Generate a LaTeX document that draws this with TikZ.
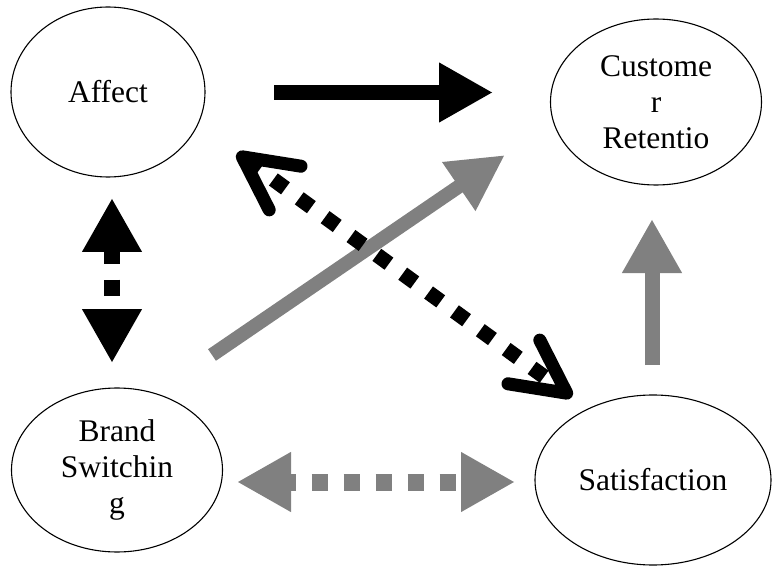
\documentclass[tikz,border=0pt]{standalone}
\usepackage{fontspec}
\setmainfont{Liberation Serif}
\usetikzlibrary{arrows.meta,shapes.geometric}
\definecolor{arrowgray}{RGB}{128,128,128}
\begin{document}
\begin{tikzpicture}[x=1pt,y=-1pt,
  concept/.style={draw=black, line width=1.1pt, ellipse, inner sep=0pt,
    align=center, font=\fontsize{31.5}{36}\selectfont},
  fattip/.tip={Triangle[length=54pt,width=56pt]},
  chevron/.tip={Straight Barb[length=53pt,width=54pt,line width=13pt,round]},
  solidlink/.style={line width=15pt, -{Triangle[length=54pt,width=56pt]}},
  dotlink/.style={line width=16pt, dash pattern=on 16pt off 16pt},
]
\useasboundingbox (0,0) rectangle (772,567);

% concepts
\node[concept, minimum width=194pt, minimum height=170pt] (affect) at (108,92) {Affect};
\node[concept, minimum width=211pt, minimum height=166pt] (retention) at (656,102) {Custome\\r\\Retentio};
\node[concept, minimum width=211pt, minimum height=164pt] (switching) at (117,470) {Brand\\Switchin\\g};
\node[concept, minimum width=236pt, minimum height=170pt] (satisfaction) at (653,480) {Satisfaction};

% free ends of the connectors
\coordinate (affR) at (274,92.5);
\coordinate (retL) at (493,92.5);
\coordinate (affB) at (112,198);
\coordinate (swiT) at (112,363);
\coordinate (swiUR) at (212,355);
\coordinate (retLL) at (505,155);
\coordinate (affLR) at (237,153);
\coordinate (satUL) at (572,397);
\coordinate (satT) at (652,365);
\coordinate (retB) at (652,219);
\coordinate (swiR) at (237,482);
\coordinate (satL) at (515,482);

% connectors
\draw[solidlink, black] (affR) -- (retL);
\draw[solidlink, arrowgray, line width=14pt, -{Triangle[length=56pt,width=55pt]}] (swiUR) -- (retLL);
\draw[solidlink, arrowgray] (satT) -- (retB);
\draw[dotlink, black, dash phase=1pt, fattip-fattip] (affB) -- (swiT);
\draw[dotlink, arrowgray, line width=17pt, dash phase=8pt, fattip-fattip] (swiR) -- (satL);
\draw[dotlink, black, line width=15pt, dash pattern=on 15pt off 17pt, chevron-chevron] (affLR) -- (satUL);
\end{tikzpicture}
\end{document}
